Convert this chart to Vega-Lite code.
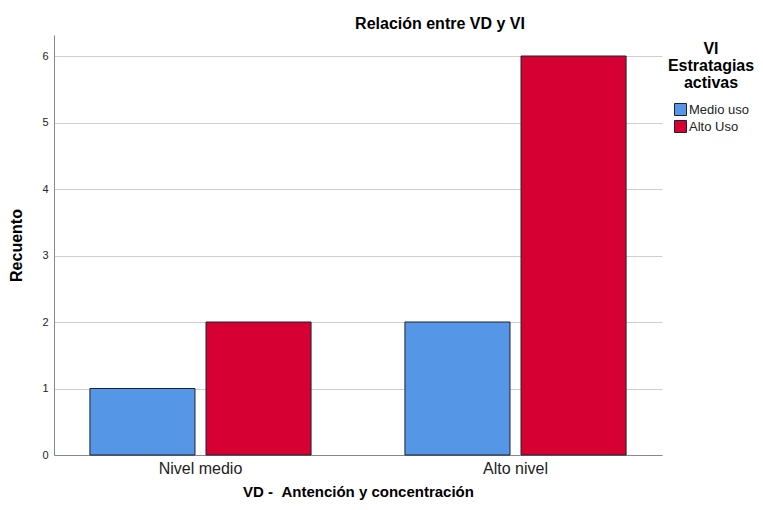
{
  "$schema": "https://vega.github.io/schema/vega-lite/v6.json",
  "width": 608,
  "height": 420,
  "autosize": {"type": "none"},
  "padding": {"left": 54, "top": 35, "right": 101, "bottom": 55},
  "background": "white",
  "config": {"font": "Liberation Sans", "view": {"stroke": null}},
  "title": {
    "text": "Relación entre VD y VI",
    "font": "Liberation Sans",
    "fontSize": 16,
    "fontWeight": "bold",
    "color": "#000000",
    "anchor": "middle",
    "dx": 82,
    "offset": 3
  },
  "data": {
    "values": [
      {"VD": "Nivel medio", "VI": "Medio uso", "n": 1},
      {"VD": "Nivel medio", "VI": "Alto Uso", "n": 2},
      {"VD": "Alto nivel", "VI": "Medio uso", "n": 2},
      {"VD": "Alto nivel", "VI": "Alto Uso", "n": 6}
    ]
  },
  "mark": {"type": "bar", "stroke": "#1a2330", "strokeWidth": 1},
  "encoding": {
    "x": {
      "field": "VD",
      "type": "nominal",
      "sort": ["Nivel medio", "Alto nivel"],
      "scale": {"paddingInner": 0.298, "paddingOuter": 0.114},
      "axis": {
        "title": "VD - \u00a0Antención y concentración",
        "titleFont": "Liberation Sans",
        "titleFontSize": 15,
        "titleFontWeight": "bold",
        "titleColor": "#000000",
        "titlePadding": 8,
        "labelAngle": 0,
        "labelFont": "Liberation Sans",
        "labelFontSize": 16,
        "labelColor": "#222222",
        "labelPadding": 5,
        "ticks": false,
        "domainColor": "#888888",
        "grid": false
      }
    },
    "xOffset": {
      "field": "VI",
      "type": "nominal",
      "sort": ["Medio uso", "Alto Uso"],
      "scale": {"paddingInner": 0.095, "paddingOuter": 0}
    },
    "y": {
      "field": "n",
      "type": "quantitative",
      "scale": {"domain": [0, 6.316], "nice": false},
      "axis": {
        "values": [0, 1, 2, 3, 4, 5, 6],
        "title": "Recuento",
        "titleFont": "Liberation Sans",
        "titleFontSize": 16,
        "titleFontWeight": "bold",
        "titleColor": "#000000",
        "titlePadding": 17,
        "labelFont": "Liberation Sans",
        "labelFontSize": 11,
        "labelColor": "#222222",
        "labelPadding": 6,
        "ticks": false,
        "domainColor": "#888888",
        "grid": true,
        "gridColor": "#cfcfcf",
        "gridWidth": 1
      }
    },
    "color": {
      "field": "VI",
      "type": "nominal",
      "sort": ["Medio uso", "Alto Uso"],
      "scale": {"domain": ["Medio uso", "Alto Uso"], "range": ["#5596e6", "#d60032"]},
      "legend": {
        "orient": "none",
        "legendX": 614,
        "legendY": 6,
        "title": ["VI", "Estratagias", "activas"],
        "titleFont": "Liberation Sans",
        "titleFontSize": 16,
        "titleFontWeight": "bold",
        "titleColor": "#000000",
        "titleAlign": "center",
        "titleAnchor": "middle",
        "titleLineHeight": 17,
        "titlePadding": 12,
        "labelFont": "Liberation Sans",
        "labelFontSize": 13,
        "labelColor": "#222222",
        "labelOffset": 2,
        "symbolType": "square",
        "symbolSize": 144,
        "symbolStrokeColor": "#1a2330",
        "symbolStrokeWidth": 1,
        "rowPadding": 0
      }
    }
  }
}
